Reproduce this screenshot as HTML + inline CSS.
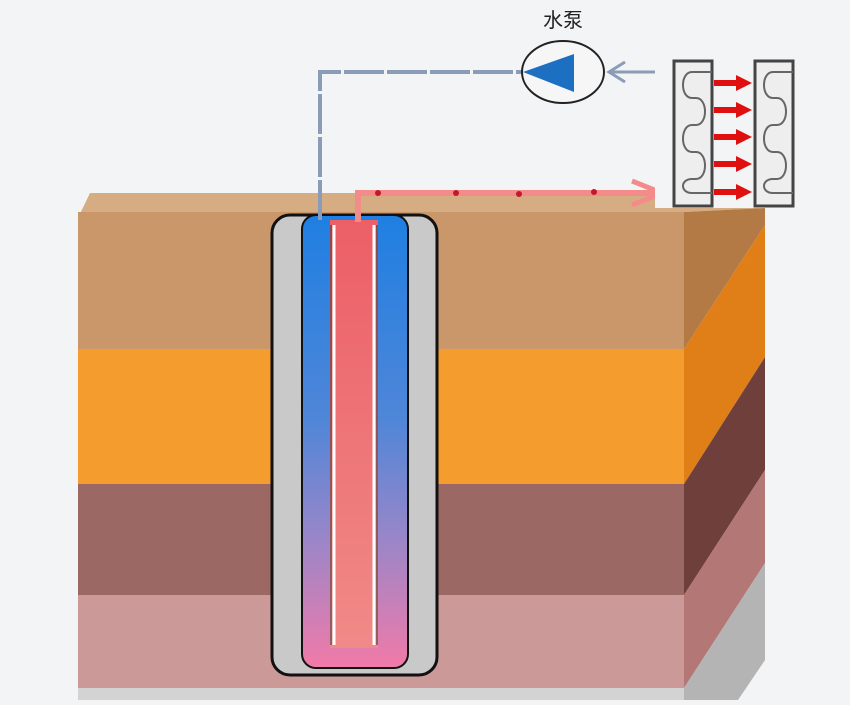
<!DOCTYPE html>
<html><head><style>body{margin:0;background:#f3f4f6}</style></head><body>
<svg width="850" height="700" viewBox="0 0 850 700" xmlns="http://www.w3.org/2000/svg">
<defs>
<linearGradient id="g" x1="0" y1="0" x2="0" y2="1"><stop offset="0" stop-color="#1f7fe2"/><stop offset="0.45" stop-color="#4f86d8"/><stop offset="0.72" stop-color="#9b86c8"/><stop offset="1" stop-color="#f27aa8"/></linearGradient>
<linearGradient id="r" x1="0" y1="0" x2="0" y2="1"><stop offset="0" stop-color="#ec5f66"/><stop offset="1" stop-color="#f08a88"/></linearGradient>
</defs>
<rect width="850" height="700" fill="#f3f4f6"/>
<polygon points="78,218 90,193 690,193 765,208 684,212" fill="#d6ad82"/>
<rect x="78" y="212" width="606" height="137" fill="#c9976a"/>
<rect x="78" y="349" width="606" height="135" fill="#f59c2e"/>
<rect x="78" y="484" width="606" height="111" fill="#9b6864"/>
<rect x="78" y="595" width="606" height="93" fill="#cb9998"/>
<rect x="78" y="688" width="606" height="12" fill="#d3d3d3"/>
<polygon points="684,212 765,208 765,225 684,349" fill="#b47a45"/>
<polygon points="684,349 765,225 765,357 684,484" fill="#e07f18"/>
<polygon points="684,484 765,357 765,470 684,595" fill="#6f3f3b"/>
<polygon points="684,595 765,470 765,563 684,688" fill="#b37776"/>
<polygon points="684,688 765,563 765,660 738,700 684,700" fill="#b4b4b4"/>
<rect x="272" y="215" width="165" height="460" rx="18" fill="#c9c9c9" stroke="#111" stroke-width="3"/>
<rect x="302" y="215" width="106" height="453" rx="14" fill="url(#g)" stroke="#111" stroke-width="2"/>
<rect x="330" y="220" width="48" height="428" fill="url(#r)"/>
<line x1="334" y1="225" x2="334" y2="645" stroke="#fff" stroke-width="3"/>
<line x1="374" y1="225" x2="374" y2="645" stroke="#fff" stroke-width="3"/>
<line x1="331" y1="225" x2="331" y2="645" stroke="#333" stroke-width="1"/>
<line x1="377" y1="225" x2="377" y2="645" stroke="#333" stroke-width="1"/>
<polyline points="320,220 320,72 522,72" fill="none" stroke="#8a9cb8" stroke-width="4" stroke-dasharray="40 3"/>
<ellipse cx="563" cy="72" rx="41" ry="31" fill="#f6f6f6" stroke="#222" stroke-width="2"/>
<polygon points="523,72 574,54 574,92" fill="#1d6fc2"/>
<text x="563" y="27" font-family="Liberation Sans, Noto Sans CJK SC, sans-serif" font-size="20" text-anchor="middle" fill="#222">水泵</text>
<line x1="673" y1="72" x2="610" y2="72" stroke="#8a9cb8" stroke-width="3"/>
<polyline points="625,62 609,72 625,82" fill="none" stroke="#8a9cb8" stroke-width="3"/>
<polyline points="358,222 358,193 660,193" fill="none" stroke="#f48b8b" stroke-width="6"/>
<polyline points="632,181 662,193 632,205" fill="none" stroke="#f48b8b" stroke-width="5"/>
<g fill="#c2182a"><circle cx="378" cy="193" r="3"/><circle cx="456" cy="193" r="3"/><circle cx="519" cy="194" r="3"/><circle cx="594" cy="192" r="3"/></g>
<rect x="655" y="60" width="139" height="148" fill="#f3f4f6"/>
<rect x="674" y="61" width="38" height="145" fill="#eee" stroke="#444" stroke-width="3"/>
<rect x="755" y="61" width="38" height="145" fill="#eee" stroke="#444" stroke-width="3"/>
<g fill="none" stroke="#666" stroke-width="2">
<path id="s" d="M712,72 H692 C680,72 680,98 692,98 H696 C708,98 708,125 696,125 H692 C680,125 680,152 692,152 H696 C708,152 708,179 696,179 H692 C680,179 680,193 692,193 H712"/>
<use href="#s" x="81"/>
</g>
<g fill="#e01010">
<g id="a"><rect x="714" y="80" width="24" height="6"/><polygon points="736,75 752,83 736,91"/></g>
<use href="#a" y="27"/><use href="#a" y="54"/><use href="#a" y="81"/><use href="#a" y="109"/>
</g>
</svg>
</body></html>
